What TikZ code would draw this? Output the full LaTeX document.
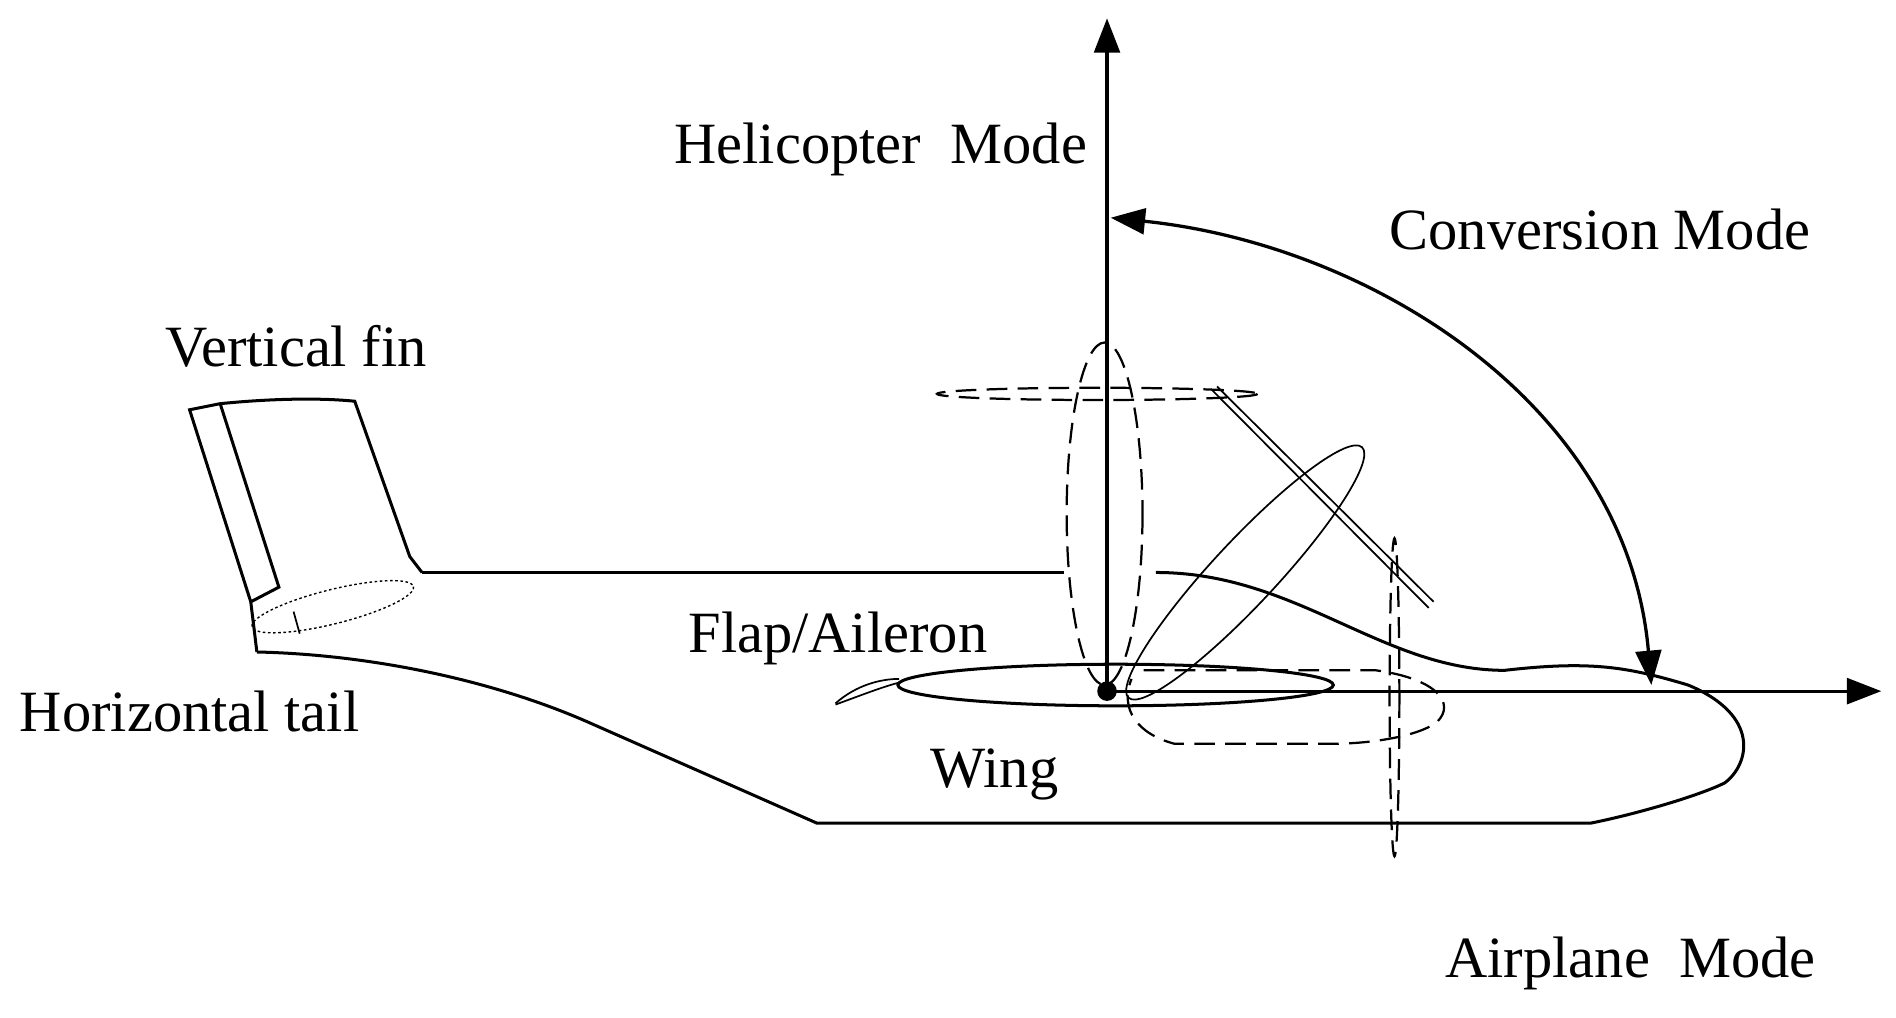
\documentclass[tikz,border=0pt]{standalone}
\usepackage{fontspec}
\setmainfont{Liberation Serif}
\usetikzlibrary{arrows.meta}
\begin{document}
\begin{tikzpicture}[x=0.05cm,y=-0.05cm,
 lbl/.style={font=\fontsize{68}{80}\selectfont,inner sep=0},
 body/.style={line width=3.5pt},
 dsh/.style={line width=2.6pt,dash pattern=on 24pt off 12pt},
 thin/.style={line width=2pt},
 arr/.style={line width=3.8pt,-{Triangle[length=40pt,width=30pt]}}]
\useasboundingbox (0,0) rectangle (1550,832);
% labels
\node[lbl] (heli) at (720,122) {Helicopter\ \ Mode};
\node[lbl] (conv) at (1308,188) {Conversion Mode};
\node[lbl] (fin) at (242,283) {Vertical fin};
\node[lbl] (htail) at (155,582) {Horizontal tail};
\node[lbl] (flap) at (685,522) {Flap/Aileron};
\node[lbl] (wing) at (813,633) {Wing};
\node[lbl] (air) at (1333,788) {Airplane\ \ Mode};
% pivot
\coordinate (o) at (905,565);
\coordinate (top) at (905,15);
\coordinate (right) at (1538,565);
% fuselage
\draw[body] (345,468) -- (870,468);
\draw[body] (945,468) .. controls (1060,468) and (1130,548) .. (1230,548)
  .. controls (1300,540) and (1330,545) .. (1380,560)
  .. controls (1440,585) and (1430,625) .. (1410,640)
  .. controls (1390,650) and (1340,665) .. (1300,673) -- (668,673)
  -- (480,590) .. controls (400,555) and (300,535) .. (210,533);
% vertical fin
\draw[body] (210,533) -- (205,492) -- (155,335) -- (180,330)
  .. controls (220,326) and (260,325) .. (290,328) -- (335,455) -- (345,468);
\draw[body] (180,330) -- (228,480) -- (205,492);
% horizontal tail (dotted)
\draw[thin,line width=1.6pt,dash pattern=on 3pt off 3pt,rotate around={14:(272,496)}] (272,496) ellipse (68 and 14);
\draw[thin] (240,500) -- (245,518);
% wing and flap
\draw[body] (912,560) ellipse (178 and 17);
\draw[thin] (683,575) .. controls (700,560) and (720,555) .. (735,555);
\draw[thin] (683,576) .. controls (705,568) and (720,562) .. (735,558);
% helicopter rotor (dashed)
\draw[dsh] (903,420) ellipse (31 and 140);
\draw[dsh] (897,322) ellipse (131 and 5);
% airplane rotor (dashed)
\draw[dsh] (1140,570) ellipse (4 and 130);
\draw[dsh] (935,548) -- (1125,548) .. controls (1175,555) and (1190,575) .. (1175,590)
  .. controls (1160,602) and (1120,608) .. (1090,608) -- (960,608)
  .. controls (930,600) and (915,580) .. (925,555);
% conversion rotor (solid, tilted)
\draw[thin,rotate around={47:(1018,468)}] (1018,468) ellipse (140 and 26);
\draw[thin] (990,318) -- (1168,497);
\draw[thin] (995,316) -- (1172,492);
% axes
\draw[arr] (o) -- (top);
\draw[arr] (o) -- (right);
\fill (o) circle (8);
% conversion arc
\draw[line width=3.8pt,{Triangle[length=40pt,width=30pt]}-{Triangle[length=40pt,width=30pt]}]
  (908,178) .. controls (1120,200) and (1330,330) .. (1350,560);
\end{tikzpicture}
\end{document}
